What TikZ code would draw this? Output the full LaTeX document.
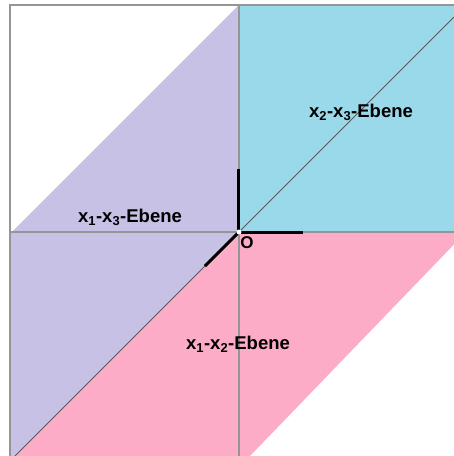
\documentclass[tikz,border=0pt]{standalone}
\usepackage{fontspec}
\setsansfont{Liberation Sans}
\usetikzlibrary{calc}
\definecolor{planeviolet}{HTML}{C8C1E6}
\definecolor{planecyan}{HTML}{9AD9E9}
\definecolor{planepink}{HTML}{FDACC8}
\definecolor{axisgray}{HTML}{959595}
\definecolor{diagdark}{HTML}{5A5A5A}
\tikzset{
  axisline/.style={draw=axisgray,line width=1.5pt},
  diagline/.style={draw=diagdark,line width=0.8pt},
  unitvec/.style={draw=black,line width=3pt},
  planelabel/.style={font=\sffamily\bfseries\fontsize{18.5}{21}\selectfont,inner sep=1pt},
  originlabel/.style={font=\sffamily\bfseries\fontsize{17}{19}\selectfont,inner sep=1pt},
}

\begin{document}
\begin{tikzpicture}[x=1pt,y=1pt]
  \useasboundingbox (-239,-224) rectangle (215,232);
  \clip (-239,-224) rectangle (215,232);
  \coordinate (O) at (0,0);
  \coordinate (top) at (0,227);
  \coordinate (bottom) at (0,-224);
  \coordinate (left) at (-229,0);
  \coordinate (right) at (215,0);
  \coordinate (corner) at (-229,227);
  \coordinate (x1end) at (-224,-224);
  % planes
  \fill[planeviolet] (top) -- (O) -- (x1end) -- (-229,-224) -- (-229,-2) -- cycle;
  \fill[planecyan] (O) rectangle (215,227);
  \fill[planepink] (O) -- (227,0) -- (11,-224) -- (x1end) -- cycle;
  % frame and axes
  \draw[axisline] (right |- corner) -- (corner) -- (corner |- bottom);
  \draw[axisline] (left) -- (right);
  \draw[axisline] (top) -- (bottom);
  \draw[diagline] (O) -- (215,215);
  \draw[diagline] (O) -- (x1end);
  % unit vectors
  \draw[unitvec] (O) -- (0,63);
  \draw[unitvec] (O) -- (64,0);
  \draw[unitvec] (O) -- (-34,-34);
  \fill[white] (O) circle (2.5);
  % labels
  \node[originlabel] (olabel) at (8,-11) {O};
  \node[planelabel] (e13) at (-109,15) {x\textsubscript{1}-x\textsubscript{3}-Ebene};
  \node[planelabel] (e23) at (122,120) {x\textsubscript{2}-x\textsubscript{3}-Ebene};
  \node[planelabel] (e12) at (-1,-112) {x\textsubscript{1}-x\textsubscript{2}-Ebene};
\end{tikzpicture}
\end{document}
